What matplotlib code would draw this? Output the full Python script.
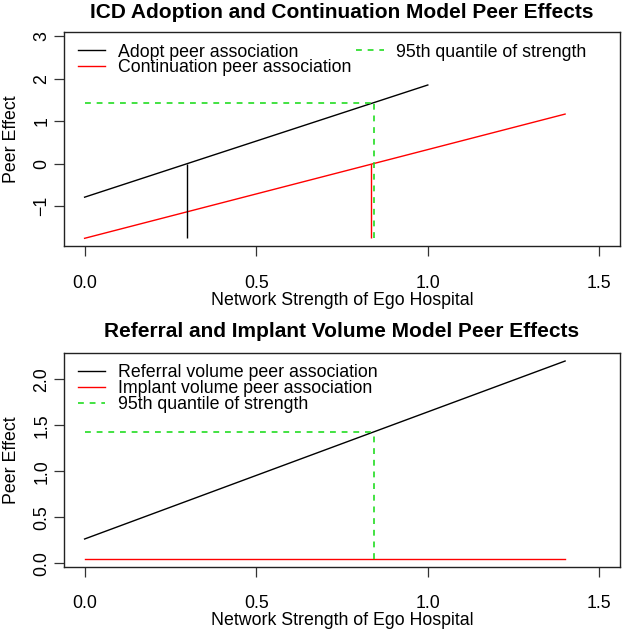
import matplotlib
matplotlib.use("Agg")
import matplotlib.pyplot as plt

plt.rcParams["font.family"] = ["Liberation Sans", "DejaVu Sans"]

# --- panel 1: ICD adoption / continuation ---
adopt_x = [0.0, 1.0]
adopt_y = [-0.79, 1.856]
cont_x = [0.0, 1.4]
cont_y = [-1.76, 1.17]
adopt_zero = 0.298      # strength where adopt effect crosses 0
cont_zero = 0.835       # strength where continuation effect crosses 0
q95_strength = 0.843
q95_adopt = 1.44

# --- panel 2: referral / implant volume ---
vol_x = [0.0, 1.4]
referral_y = [0.264, 2.199]
implant_y = [0.05, 0.05]
q95_referral = 1.428

x_ticks = [0.0, 0.5, 1.0, 1.5]
top_yticks = [-1, 0, 1, 2, 3]
bot_yticks = [0.0, 0.5, 1.0, 1.5, 2.0]

GREEN = "#22dd22"
DASH = (0, (3.5, 3.5))
FS = 12.8
W, H = 625, 635


def style_axes(ax, yticks, ylim):
    ax.set_xlim(-0.06, 1.56)
    ax.set_ylim(*ylim)
    ax.set_xticks(x_ticks)
    ax.set_xticklabels(["0.0", "0.5", "1.0", "1.5"])
    ax.set_yticks(yticks)
    ax.tick_params(direction="out", length=7.2, width=0.9, labelsize=FS,
                   color="#333333")
    ax.tick_params(axis="x", pad=13.5)
    ax.tick_params(axis="y", pad=2.5)
    for lab in ax.get_yticklabels():
        lab.set_rotation(90)
        lab.set_va("center")
    for sp in ax.spines.values():
        sp.set_linewidth(1.0)
        sp.set_color("#222222")
    ax.set_xlabel("Network Strength of Ego Hospital", fontsize=FS)
    ax.set_ylabel("Peer Effect", fontsize=FS)
    h_px = ax.get_position().height * H
    w_px = ax.get_position().width * W
    ax.xaxis.set_label_coords(0.5, -54.0 / h_px)
    ax.xaxis.label.set_va("center")
    ax.yaxis.set_label_coords(-52.0 / w_px, 0.5)
    ax.yaxis.label.set_va("center")


def legend(ax, ncol, anchor):
    ax.legend(loc="upper left", bbox_to_anchor=anchor, ncol=ncol,
              frameon=False, fontsize=FS, handlelength=1.55,
              handletextpad=0.72, labelspacing=-0.07, columnspacing=0.25,
              borderpad=0, borderaxespad=0)


fig = plt.figure(figsize=(W / 100, H / 100), dpi=100)

ax1 = fig.add_axes([64 / W, 1 - 246.5 / H, 556 / W, 214 / H])
ax1.plot(adopt_x, adopt_y, color="black", lw=1.0, label="Adopt peer association")
ax1.plot(cont_x, cont_y, color="red", lw=1.0, label="Continuation peer association")
ax1.plot([], [], color=GREEN, lw=1.2, ls=DASH, label="95th quantile of strength")
ymin1 = min(cont_y)
ax1.vlines(adopt_zero, ymin1, 0, color="black", lw=1.0)
ax1.vlines(cont_zero, ymin1, 0, color="red", lw=1.0)
ax1.vlines(q95_strength, ymin1, q95_adopt, color=GREEN, lw=1.2, linestyles=[DASH])
ax1.hlines(q95_adopt, 0, q95_strength, color=GREEN, lw=1.2, linestyles=[DASH])
style_axes(ax1, top_yticks, (-1.953, 3.094))
legend(ax1, 2, (0.025, 0.948))
fig.text(342 / W, 1 - 12 / H, "ICD Adoption and Continuation Model Peer Effects",
         ha="center", va="center", fontsize=15, fontweight="bold")

ax2 = fig.add_axes([64 / W, 1 - 566.5 / H, 556 / W, 213.2 / H])
ax2.plot(vol_x, referral_y, color="black", lw=1.0, label="Referral volume peer association")
ax2.plot(vol_x, implant_y, color="red", lw=1.0, label="Implant volume peer association")
ax2.vlines(q95_strength, implant_y[0], q95_referral, color=GREEN, lw=1.2,
           linestyles=[DASH], label="95th quantile of strength")
ax2.hlines(q95_referral, 0, q95_strength, color=GREEN, lw=1.2, linestyles=[DASH])
style_axes(ax2, bot_yticks, (-0.035, 2.283))
legend(ax2, 1, (0.025, 0.948))
fig.text(342 / W, 1 - 331.7 / H, "Referral and Implant Volume Model Peer Effects",
         ha="center", va="center", fontsize=15, fontweight="bold")

fig.savefig("out.png", dpi=100)
